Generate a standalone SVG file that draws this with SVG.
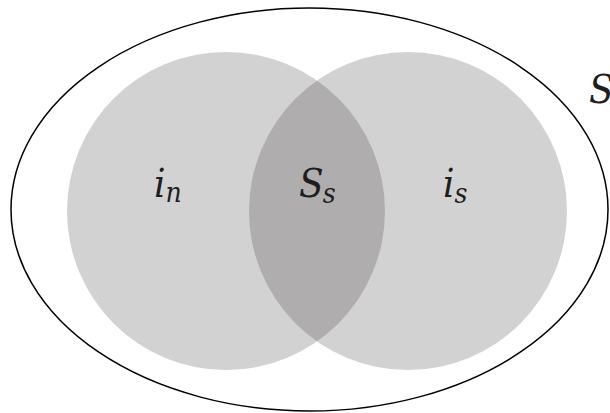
<svg xmlns="http://www.w3.org/2000/svg" width="610" height="413" viewBox="0 0 610 413">
  <style>
    text { font-family: 'DejaVu Serif Condensed', 'DejaVu Serif', serif; font-style: italic; fill: #1e1e1e; font-size: 40px; }
    .sub { font-size: 28px; }
    .set { fill: #d3d2d3; }
    .lens { fill: #b0adae; }
  </style>
  <defs>
    <clipPath id="clipLeft">
      <circle cx="226" cy="211" r="159"/>
    </clipPath>
  </defs>
  <rect width="610" height="413" fill="#ffffff"/>
  <g id="universe">
    <ellipse cx="309.5" cy="209.5" rx="298.5" ry="201.5" fill="none" stroke="#000000" stroke-width="1.5"/>
    <text x="589" y="103">S</text>
  </g>
  <g id="set-n">
    <circle class="set" cx="226" cy="211" r="159"/>
  </g>
  <g id="set-s">
    <circle class="set" cx="408" cy="211" r="159"/>
  </g>
  <g id="intersection">
    <circle class="lens" cx="408" cy="211" r="159" clip-path="url(#clipLeft)"/>
  </g>
  <g id="labels">
    <text x="154" y="197">i<tspan class="sub" dy="5">n</tspan></text>
    <text x="299" y="197">S<tspan class="sub" dx="-1" dy="6">s</tspan></text>
    <text x="443" y="197">i<tspan class="sub" dy="6">s</tspan></text>
  </g>
</svg>
